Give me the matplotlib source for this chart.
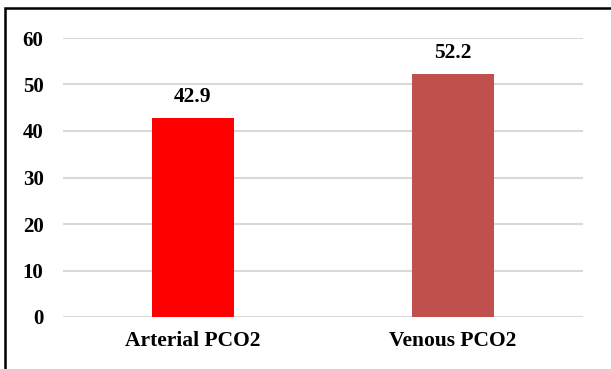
import matplotlib.pyplot as plt
from matplotlib.patches import Rectangle

categories = ['Arterial PCO2', 'Venous PCO2']
values = [42.9, 52.2]
colors = ['#FF0000', '#C0504D']
yticks = [0, 10, 20, 30, 40, 50, 60]

plt.rcParams['font.family'] = ['Liberation Serif', 'DejaVu Serif']
plt.rcParams['font.weight'] = 'bold'

fig = plt.figure(figsize=(6.11, 3.69), dpi=100)
ax = fig.add_axes([63/611, 1 - 317/369, 520/611, (317 - 38)/369])

x = range(len(categories))
bars = ax.bar(x, values, width=0.315, color=colors, zorder=3)
for b, v in zip(bars, values):
    ax.annotate(f'{v}', (b.get_x() + b.get_width()/2, v), xytext=(0, 15),
                textcoords='offset points', ha='center', va='center',
                fontsize=15.5, fontweight='bold')

ax.set_xlim(-0.5, 1.5)
ax.set_ylim(0, 60)
ax.set_yticks(yticks)
ax.set_xticks(list(x))
ax.set_xticklabels(categories, fontsize=15.5, fontweight='bold')
ax.tick_params(axis='y', length=0, pad=14, labelsize=15)
ax.tick_params(axis='x', length=0, pad=10)
ax.yaxis.grid(True, color='#D9D9D9', linewidth=1.5, zorder=0)
ax.set_axisbelow(True)
for s in ax.spines.values():
    s.set_visible(False)

fig.patches.append(Rectangle((5/611, -0.1), 1.2, 1 - 8/369 + 0.1,
                             transform=fig.transFigure, fill=False,
                             edgecolor='black', linewidth=1.8))

fig.savefig('out.png', dpi=100)
